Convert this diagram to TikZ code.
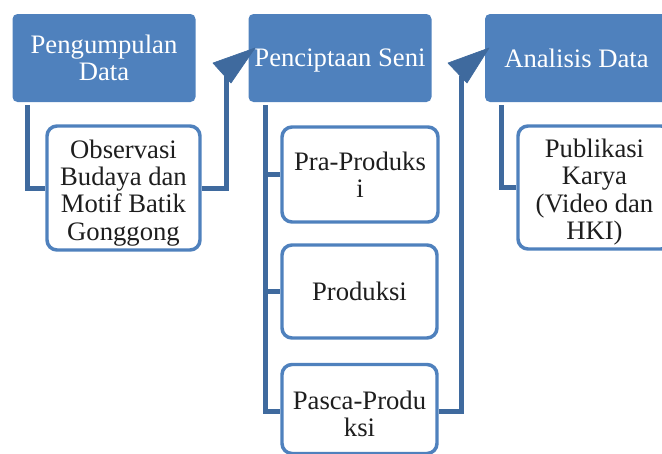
\documentclass[tikz,border=0pt]{standalone}
\usepackage{fontspec}
\setmainfont{Liberation Serif}
\usetikzlibrary{calc}
\definecolor{hdr}{HTML}{4F81BD}
\definecolor{conncol}{HTML}{3F6A9E}
\definecolor{bord}{HTML}{4F81BD}
\definecolor{txt}{HTML}{1E1E1E}
\newcommand{\toppad}{\rule{0pt}{21pt}}
\tikzset{
  header/.style={fill=hdr, rounded corners=3.75pt, minimum width=137.25pt,
    minimum height=66pt, text=white, font=\fontsize{20}{20}\selectfont,
    align=center, inner sep=0pt},
  subbox/.style={draw=bord, line width=2.6pt, fill=white, rounded corners=7.5pt,
    text=txt, font=\fontsize{20}{20.5}\selectfont, align=center, inner sep=0pt},
  connector/.style={draw=conncol, line width=3.75pt},
  tiphead/.style={fill=conncol, draw=conncol, line width=0.5pt, line join=round}
}
\begin{document}
\begin{tikzpicture}[x=0.75pt,y=-0.75pt]
\useasboundingbox (0,0) rectangle (662,454);
\clip (0,0) rectangle (662,454);

% headers
\node[header] (h1) at (104,58) {Pengumpulan\\Data};
\node[header] (h2) at (340,58) {\rule{0pt}{17pt}Penciptaan Seni};
\node[header] (h3) at (576.5,58) {Analisis Data};

% sub boxes
\node[subbox, minimum width=114.75pt, minimum height=93pt] (obs) at (123.5,188)
  {\toppad Observasi\\Budaya dan\\Motif Batik\\Gonggong};
\node[subbox, minimum width=117pt, minimum height=71.25pt] (pra) at (360,174.5)
  {Pra-Produks\\i};
\node[subbox, minimum width=116.25pt, minimum height=69.75pt] (prod) at (359.5,291.5)
  {Produksi};
\node[subbox, minimum width=116.25pt, minimum height=66.75pt] (pasca) at (359.5,409)
  {\toppad Pasca-Produ\\ksi};
\node[subbox, minimum width=114.75pt, minimum height=92.25pt] (pub) at (594.5,187.5)
  {\toppad Publikasi\\Karya\\(Video dan\\HKI)};

% connectors from headers to their sub boxes
\draw[connector] ($(h1.south west)+(15,3)$) |- (obs.west);
\draw[connector] ($(h2.south west)+(17,3)$) |- (pra.west);
\draw[connector] ($(h2.south west)+(17,3)$) |- (prod.west);
\draw[connector] ($(h2.south west)+(17,3)$) |- ([yshift=-1.5pt]pasca.west);
\draw[connector] ($(h3.south west)+(17,3)$) |- (pub.west);

% bent arrows to next header
\coordinate (a1) at (226,76);
\coordinate (t1) at (255,48);
\coordinate (b1) at (213,63);
\coordinate (c1) at (231,83);
\draw[connector] (obs.east) -| (a1);
\fill[tiphead] (t1) -- (b1) -- (c1) -- cycle;

\coordinate (a2) at (461,76);
\coordinate (t2) at (489,48);
\coordinate (b2) at (448,63);
\coordinate (c2) at (467,83);
\draw[connector] ([yshift=-1.5pt]pasca.east) -| (a2);
\fill[tiphead] (t2) -- (b2) -- (c2) -- cycle;
\end{tikzpicture}
\end{document}
